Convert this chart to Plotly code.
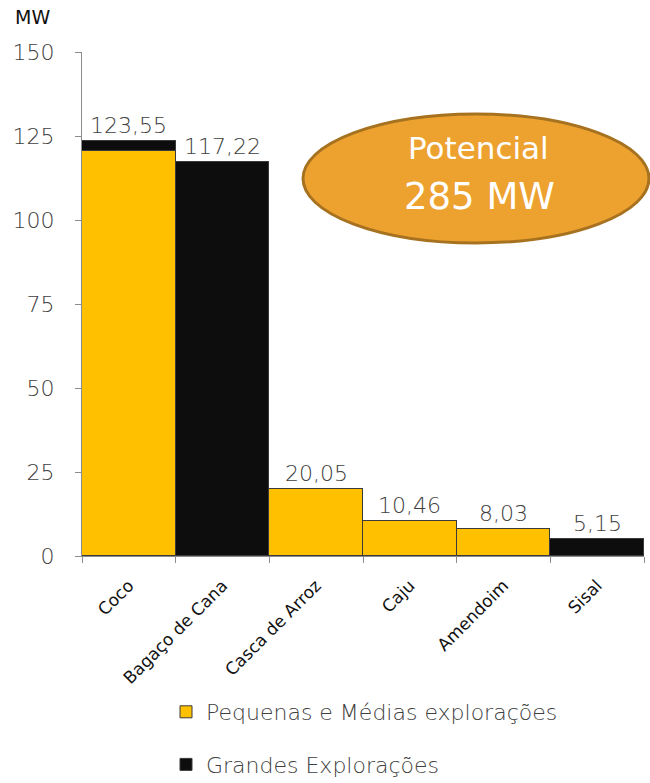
import plotly.graph_objects as go

categories = ["Coco", "Bagaço de Cana", "Casca de Arroz", "Caju", "Amendoim", "Sisal"]
pequenas = [120.6, None, 20.05, 10.46, 8.03, None]
grandes = [2.95, 117.22, None, None, None, 5.15]
totals = [123.55, 117.22, 20.05, 10.46, 8.03, 5.15]
total_labels = ["123,55", "117,22", "20,05", "10,46", "8,03", "5,15"]
y_ticks = [0, 25, 50, 75, 100, 125, 150]

FONT = "DejaVu Sans, sans-serif"
W = 300

fig = go.Figure()
fig.add_trace(go.Bar(
    x=categories, y=pequenas, name="Pequenas e Médias explorações",
    marker=dict(color="#FFC000", line=dict(color="#3a3a3a", width=1)),
    legendgroup="a",
))
fig.add_trace(go.Bar(
    x=categories, y=grandes, name="Grandes Explorações",
    marker=dict(color="#0D0D0D", line=dict(color="#3a3a3a", width=1)),
    legendgroup="b",
))

for c, t, lab in zip(categories, totals, total_labels):
    fig.add_annotation(x=c, y=t, text=lab, showarrow=False, yanchor="bottom",
                       yshift=1, font=dict(size=22, color="#404040", family=FONT, weight=W))

# Ellipse callout
fig.add_shape(type="circle", xref="paper", yref="paper",
              x0=(303 - 82) / 562, x1=(649 - 82) / 562,
              y0=(556 - 243) / 504, y1=(556 - 114) / 504,
              fillcolor="#EDA22F", line=dict(color="#A6721F", width=3), layer="above")
fig.add_annotation(xref="paper", yref="paper", x=(478 - 82) / 562, y=(556 - 148) / 504,
                   xanchor="center", yanchor="middle",
                   text="Potencial", showarrow=False,
                   font=dict(size=31, color="white", family=FONT))
fig.add_annotation(xref="paper", yref="paper", x=(479 - 82) / 562, y=(556 - 196) / 504,
                   xanchor="center", yanchor="middle",
                   text="285 MW", showarrow=False,
                   font=dict(size=37, color="white", family=FONT))

fig.add_annotation(xref="paper", yref="paper", x=(13 - 82) / 562, y=(556 - 17) / 504,
                   xanchor="left", yanchor="middle", text="MW", showarrow=False,
                   font=dict(size=19, color="#111111", family=FONT))

fig.update_layout(
    width=650, height=783,
    margin=dict(l=82, r=6, t=52, b=227, autoexpand=False),
    barmode="stack", bargap=0,
    plot_bgcolor="white", paper_bgcolor="white",
    font=dict(family=FONT, color="#404040"),
    legend=dict(x=(166 - 82) / 562, y=(556 - 691) / 504, xanchor="left", yanchor="top",
                tracegroupgap=21, font=dict(size=22, color="#404040", family=FONT, weight=W),
                itemwidth=30, bgcolor="rgba(0,0,0,0)"),
    xaxis=dict(showline=True, linecolor="#8c8c8c", linewidth=1, ticks="outside",
               tickson="boundaries", ticklen=6, tickcolor="#8c8c8c", tickangle=-45,
               automargin=False, ticklabelstandoff=12,
               tickfont=dict(size=17, color="#111111", family=FONT)),
    yaxis=dict(range=[0, 150], tickvals=y_ticks, showgrid=False, zeroline=False,
               showline=True, linecolor="#8c8c8c", linewidth=1, ticks="outside",
               ticklen=6, tickcolor="#8c8c8c", automargin=False, ticklabelstandoff=16,
               tickfont=dict(size=22, color="#404040", family=FONT, weight=W)),
)

fig.write_html("out.html")
